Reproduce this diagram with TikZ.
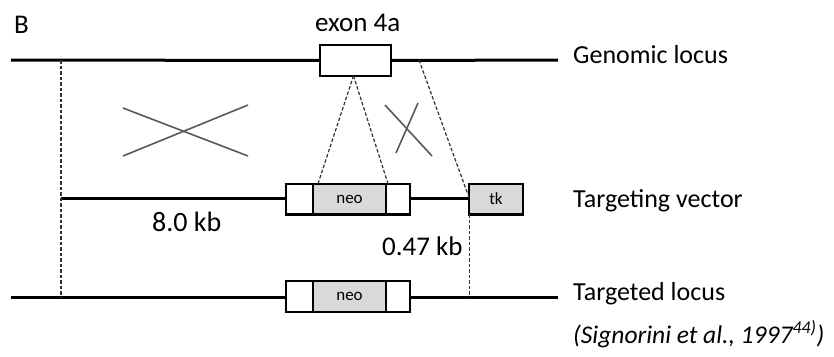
\documentclass[tikz,border=0pt]{standalone}
\usepackage{fontspec}
\setmainfont{Carlito}
\usetikzlibrary{calc}
\definecolor{boxgray}{HTML}{D9D9D9}
\definecolor{crossgray}{HTML}{595959}
\definecolor{linkgray}{HTML}{333333}

\begin{document}
\begin{tikzpicture}[x=1pt,y=-1pt]
	\tikzstyle{locus}=[draw,line width=3pt,-,black]
	\tikzstyle{link}=[draw,line width=1.2pt,dash pattern=on 3.5pt off 2pt,linkgray]
	\tikzstyle{cross}=[draw,line width=1.6pt,crossgray]
	\tikzstyle{seg}=[draw,line width=2.4pt,rectangle,inner sep=0pt,outer sep=0pt,minimum height=30.6pt,fill=white]
	\tikzstyle{marker}=[seg,fill=boxgray,font=\fontsize{17}{17}\selectfont]
	\tikzstyle{label}=[anchor=base west,inner sep=0pt,font=\fontsize{26}{26}\selectfont]
	\useasboundingbox (0,0) rectangle (834,356);
	% genomic locus
	\coordinate (gl) at (11,60);
	\coordinate (gv) at (61,60);
	\coordinate (gh) at (419,60);
	\coordinate (gr) at (558,60);
	\node[seg,minimum width=71pt] (exon) at (355.5,60.5) {};
	\draw[locus] (gl) -- (exon.west);
	\draw[locus] (exon.east) -- (gr);
	% targeting vector
	\coordinate (tvl) at (61,198);
	\node[seg,minimum width=27pt] (tvna) at (299.5,199) {};
	\node[marker,minimum width=73pt] (tvneo) at (349.5,199) {neo};
	\node[seg,minimum width=24pt] (tvnb) at (398,199) {};
	\node[marker,minimum width=53.6pt] (tk) at (496,199) {tk};
	\draw[locus] (tvl) -- (tvl -| tvna.west);
	\draw[locus] (tvnb.east |- tvl) -- (tvl -| tk.west);
	% targeted locus
	\coordinate (bl) at (11,297);
	\coordinate (bv) at (61,297);
	\coordinate (br) at (558,297);
	\node[seg,minimum width=27pt] (tdna) at (299.5,296.5) {};
	\node[marker,minimum width=73pt] (tdneo) at (349.5,296.5) {neo};
	\node[seg,minimum width=24pt] (tdnb) at (398,296.5) {};
	\draw[locus] (bl) -- (bl -| tdna.west);
	\draw[locus] (tdnb.east |- br) -- (br);
	% homology links
	\draw[link] (gv) -- (bv);
	\draw[link] ($(exon.south)+(-2,0)$) -- ($(tvneo.north west)+(5,0)$);
	\draw[link] ($(exon.south)+(-2,0)$) -- ($(tvneo.north east)+(2,0)$);
	\draw[link] (gh) -- (tvl -| tk.west);
	\draw[link] (tk.south west) -- (tk.south west |- br);
	% crossovers
	\draw[cross] (123,108) -- (248,156);
	\draw[cross] (123,156) -- (248,105);
	\draw[cross] (385,105) -- (432,156);
	\draw[cross] (418,103) -- (396,153);
	% labels
	\node[label,font=\fontsize{27}{27}\selectfont] (panel) at (14,33) {B};
	\node[label,font=\fontsize{27}{27}\selectfont] (exonlab) at (315,31) {exon 4a};
	\node[label] (glab) at (573,63) {Genomic locus};
	\node[label] (tvlab) at (573,207) {Targeting vector};
	\node[label] (tdlab) at (573,300) {Targeted locus};
	\node[label,font=\fontsize{25.5}{25.5}\selectfont\itshape] (cite) at (573,343) {(Signorini et al., 1997\textsuperscript{44)})};
	\node[label,font=\fontsize{28}{28}\selectfont] (armL) at (152,231) {8.0 kb};
	\node[label,font=\fontsize{27}{27}\selectfont] (armS) at (382,255) {0.47 kb};
\end{tikzpicture}
\end{document}
